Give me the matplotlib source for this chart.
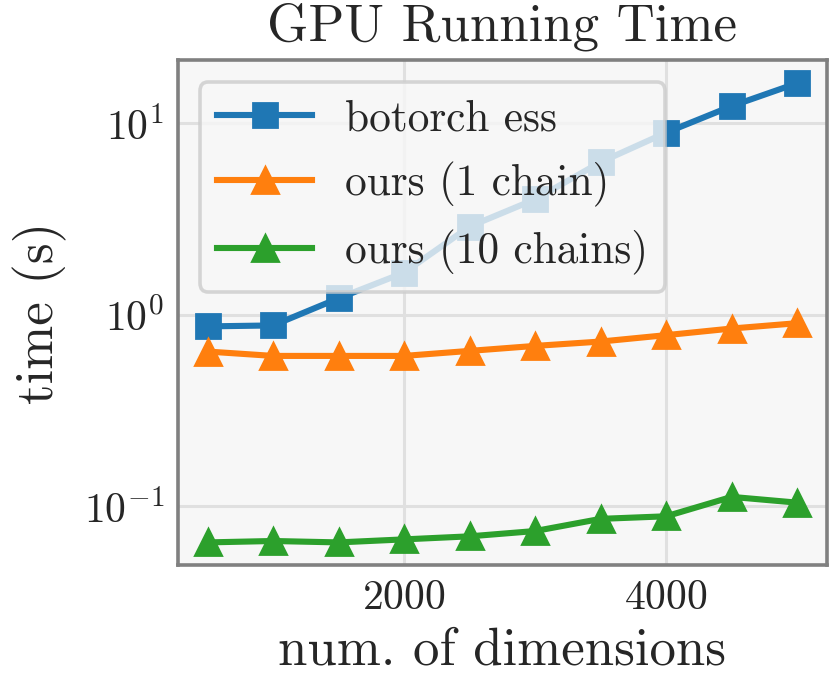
import matplotlib
matplotlib.use("Agg")
import matplotlib.pyplot as plt

dims = [500, 1000, 1500, 2000, 2500, 3000, 3500, 4000, 4500, 5000]
botorch_ess = [0.87, 0.88, 1.22, 1.66, 2.89, 4.01, 6.27, 8.94, 12.3, 16.2]
ours_1 = [0.643, 0.61, 0.61, 0.61, 0.648, 0.688, 0.725, 0.783, 0.848, 0.904]
ours_10 = [0.0648, 0.0659, 0.0648, 0.0672, 0.0697, 0.0743, 0.086, 0.0887, 0.112, 0.1045]
labels = ["botorch ess", "ours (1 chain)", "ours (10 chains)"]
xticks = [2000, 4000]

plt.rcParams['font.family'] = ['cmr10', 'DejaVu Serif']
plt.rcParams['mathtext.fontset'] = 'cm'
plt.rcParams['axes.formatter.use_mathtext'] = True
plt.rcParams['axes.unicode_minus'] = False

txt = '#262626'
fig = plt.figure(figsize=(4.15, 3.46), dpi=200)
ax = fig.add_axes([0.2145, 0.183, 0.7815, 0.730])
ax.set_facecolor('#f7f7f7')
for s in ax.spines.values():
    s.set_color('#808080')
    s.set_linewidth(1.3)
ax.grid(True, color='#e0e0e0', linewidth=1.1)
ax.set_axisbelow(True)

lw = 2.2
ax.plot(dims, botorch_ess, '-s', color='#1f77b4', lw=lw, ms=8.5, label=labels[0])
ax.plot(dims, ours_1, '-^', color='#ff7f0e', lw=lw, ms=9.5, label=labels[1])
ax.plot(dims, ours_10, '-^', color='#2ca02c', lw=lw, ms=9.5, label=labels[2])
ax.set_yscale('log')
ax.set_xticks(xticks)
ax.tick_params(axis='both', which='both', length=0, labelsize=15, colors=txt, pad=5)
ax.set_xlabel('num. of dimensions', fontsize=19, color=txt, labelpad=4)
ax.set_ylabel('time (s)', fontsize=19, color=txt, labelpad=6)
ax.set_title('GPU Running Time', fontsize=19, color=txt, pad=7)
leg = ax.legend(loc='upper left', fontsize=15.6, framealpha=0.8, facecolor='#f7f7f7',
                edgecolor='#cccccc', fancybox=True, borderpad=0.4, labelspacing=0.52,
                handlelength=2.2, handletextpad=0.75, borderaxespad=0.5)
leg.get_frame().set_linewidth(1.3)
leg.set_zorder(5)
for t in leg.get_texts():
    t.set_color(txt)
fig.savefig('out.png', dpi=200)
